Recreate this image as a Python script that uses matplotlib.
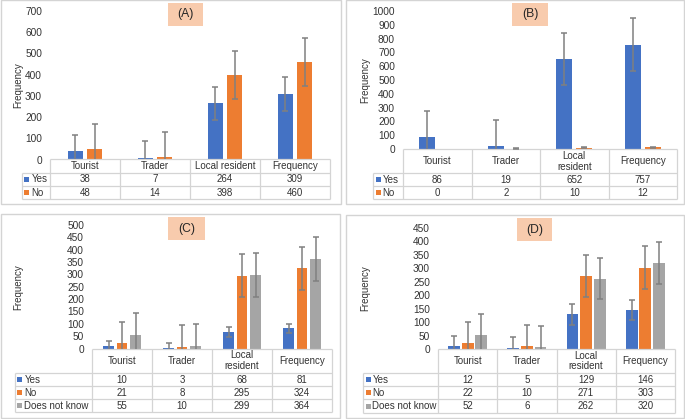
import matplotlib.pyplot as plt
from matplotlib.patches import Rectangle
from matplotlib.transforms import blended_transform_factory

plt.rcParams['font.family'] = ['Liberation Sans', 'DejaVu Sans']

# categories / series
categories = ['Tourist', 'Trader', 'Local resident', 'Frequency']
categories_wrapped = ['Tourist', 'Trader', 'Local\nresident', 'Frequency']
series_two = ['Yes', 'No']
series_three = ['Yes', 'No', 'Does not know']

# panel A
a_yes = [38, 7, 264, 309]
a_no = [48, 14, 398, 460]
a_yes_err = [77, 78, 79, 79]
a_no_err = [117, 116, 115, 115]

# panel B
b_yes = [86, 19, 652, 757]
b_no = [0, 2, 10, 12]
b_yes_err = [192, 191, 190, 190]
b_no_err = [0, 4, 4, 4]

# panel C
c_yes = [10, 3, 68, 81]
c_no = [21, 8, 295, 324]
c_dnk = [55, 10, 299, 364]
c_yes_err = [22, 20, 20, 20]
c_no_err = [87, 87, 86, 86]
c_dnk_err = [90, 88, 89, 89]

# panel D
d_yes = [12, 5, 129, 146]
d_no = [22, 10, 271, 303]
d_dnk = [52, 6, 262, 320]
d_yes_err = [38, 39, 38, 37]
d_no_err = [79, 79, 78, 79]
d_dnk_err = [78, 78, 77, 78]

colors = ['#4472C4', '#ED7D31', '#A5A5A5']
text_col = '#333333'
grid_col = '#d4d4d4'
fs = 7.0

W, H = 685, 419
fig = plt.figure(figsize=(W / 100, H / 100), dpi=100)

panels = [
    dict(tag='(A)', border=(0.5, 0.5, 341, 204), plot=(50, 11, 330, 159.5),
         ymax=700, ystep=100, header=13.5, row=13, label_left=22, ylabel_x=18,
         tag_box=(168, 3, 203, 26), width=0.21, step=0.28,
         cats=categories, names=series_two,
         values=[a_yes, a_no], errors=[a_yes_err, a_no_err]),
    dict(tag='(B)', border=(346.5, 0.5, 683.5, 204), plot=(403, 11, 677, 149),
         ymax=1000, ystep=100, header=24.5, row=13, label_left=373, ylabel_x=365,
         tag_box=(512, 3, 548, 26), width=0.23, step=0.29,
         cats=categories_wrapped, names=series_two,
         values=[b_yes, b_no], errors=[b_yes_err, b_no_err]),
    dict(tag='(C)', border=(0.5, 214.5, 340, 417.5), plot=(92, 225, 332, 348.5),
         ymax=500, ystep=50, header=24.5, row=13, label_left=15, ylabel_x=18,
         tag_box=(168, 217, 205, 240), width=0.18, step=0.225,
         cats=categories_wrapped, names=series_three,
         values=[c_yes, c_no, c_dnk], errors=[c_yes_err, c_no_err, c_dnk_err]),
    dict(tag='(D)', border=(346.5, 215, 683.5, 418), plot=(438, 228, 675, 349),
         ymax=450, ystep=50, header=24, row=13.2, label_left=363, ylabel_x=365,
         tag_box=(517, 218, 552, 241), width=0.2, step=0.23,
         cats=categories_wrapped, names=series_three,
         values=[d_yes, d_no, d_dnk], errors=[d_yes_err, d_no_err, d_dnk_err]),
]


def draw_panel(p):
    # outer border
    bx0, by0, bx1, by1 = p['border']
    fig.add_artist(Rectangle((bx0 / W, 1 - by1 / H), (bx1 - bx0) / W, (by1 - by0) / H,
                             transform=fig.transFigure, facecolor='none',
                             edgecolor=grid_col, lw=1))

    x0, y0, x1, y1 = p['plot']
    axw, axh = x1 - x0, y1 - y0
    ax = fig.add_axes([x0 / W, 1 - y1 / H, axw / W, axh / H])
    ncat = len(p['cats'])
    n = len(p['values'])
    xs = list(range(ncat))
    for k, (vals, errs) in enumerate(zip(p['values'], p['errors'])):
        off = (k - (n - 1) / 2) * p['step']
        pos = [x + off for x in xs]
        ax.bar(pos, vals, width=p['width'], color=colors[k], zorder=2)
        # no error bar where the error is zero
        keep = [i for i, e in enumerate(errs) if e > 0]
        ax.errorbar([pos[i] for i in keep], [vals[i] for i in keep],
                    yerr=[errs[i] for i in keep], fmt='none', ecolor='#808080',
                    elinewidth=1.1, capsize=2.5, capthick=1.1, zorder=3)
    ax.set_xlim(-0.5, ncat - 0.5)
    ax.set_ylim(0, p['ymax'])
    ax.set_yticks(range(0, p['ymax'] + 1, p['ystep']))
    ax.set_xticks([])
    for s in ax.spines.values():
        s.set_visible(False)
    ax.tick_params(axis='y', length=0, labelsize=fs + 0.3, labelcolor=text_col, pad=5.8)

    # y label
    fig.text(p['ylabel_x'] / W, 1 - (y0 + y1) / 2 / H, 'Frequency', rotation=90,
             ha='center', va='center', fontsize=fs, color=text_col)

    # panel tag
    tx0, ty0, tx1, ty1 = p['tag_box']
    fig.add_artist(Rectangle((tx0 / W, 1 - ty1 / H), (tx1 - tx0) / W, (ty1 - ty0) / H,
                             transform=fig.transFigure, facecolor='#F8CBAD',
                             edgecolor='none'))
    fig.text((tx0 + tx1) / 2 / W, 1 - (ty0 + ty1) / 2 / H, p['tag'], ha='center',
             va='center', fontsize=8.7, color='#262626')

    # data table below the plot
    trans = blended_transform_factory(ax.transData, ax.transAxes)

    def fy(px):
        return (y1 - px) / axh

    def fx(px):
        return (px - x0) / axw

    kw = dict(color=grid_col, lw=0.9, clip_on=False, solid_capstyle='butt')
    head_bot = y1 + p['header']
    bottom = head_bot + p['row'] * n
    lab_x = fx(p['label_left'])
    # category axis line (top of header)
    ax.plot([0, 1], [0, 0], transform=ax.transAxes, **kw)
    # row lines
    for r in range(n + 1):
        yy = fy(head_bot + r * p['row'])
        ax.plot([lab_x, 1], [yy, yy], transform=ax.transAxes, **kw)
    # column lines
    for i in range(ncat + 1):
        ax.plot([i - 0.5, i - 0.5], [0, fy(bottom)], transform=trans, **kw)
    ax.plot([lab_x, lab_x], [fy(head_bot), fy(bottom)], transform=ax.transAxes, **kw)

    # header texts
    for i, c in enumerate(p['cats']):
        ax.text(i, fy((y1 + head_bot) / 2), c, transform=trans, ha='center',
                va='center', fontsize=fs, color=text_col, linespacing=1.1)
    # rows
    for r, (name, vals) in enumerate(zip(p['names'], p['values'])):
        yc = head_bot + (r + 0.5) * p['row']
        ks = 5
        ax.add_patch(Rectangle((fx(p['label_left'] + 2.5), fy(yc + ks / 2)),
                               ks / axw, ks / axh, transform=ax.transAxes,
                               facecolor=colors[r], edgecolor='none', clip_on=False))
        ax.text(fx(p['label_left'] + 9.5), fy(yc), name, transform=ax.transAxes,
                ha='left', va='center', fontsize=fs, color=text_col)
        for i, v in enumerate(vals):
            ax.text(i, fy(yc), str(v), transform=trans, ha='center', va='center',
                    fontsize=fs, color=text_col)


for p in panels:
    draw_panel(p)

fig.savefig('out.png', dpi=100)
